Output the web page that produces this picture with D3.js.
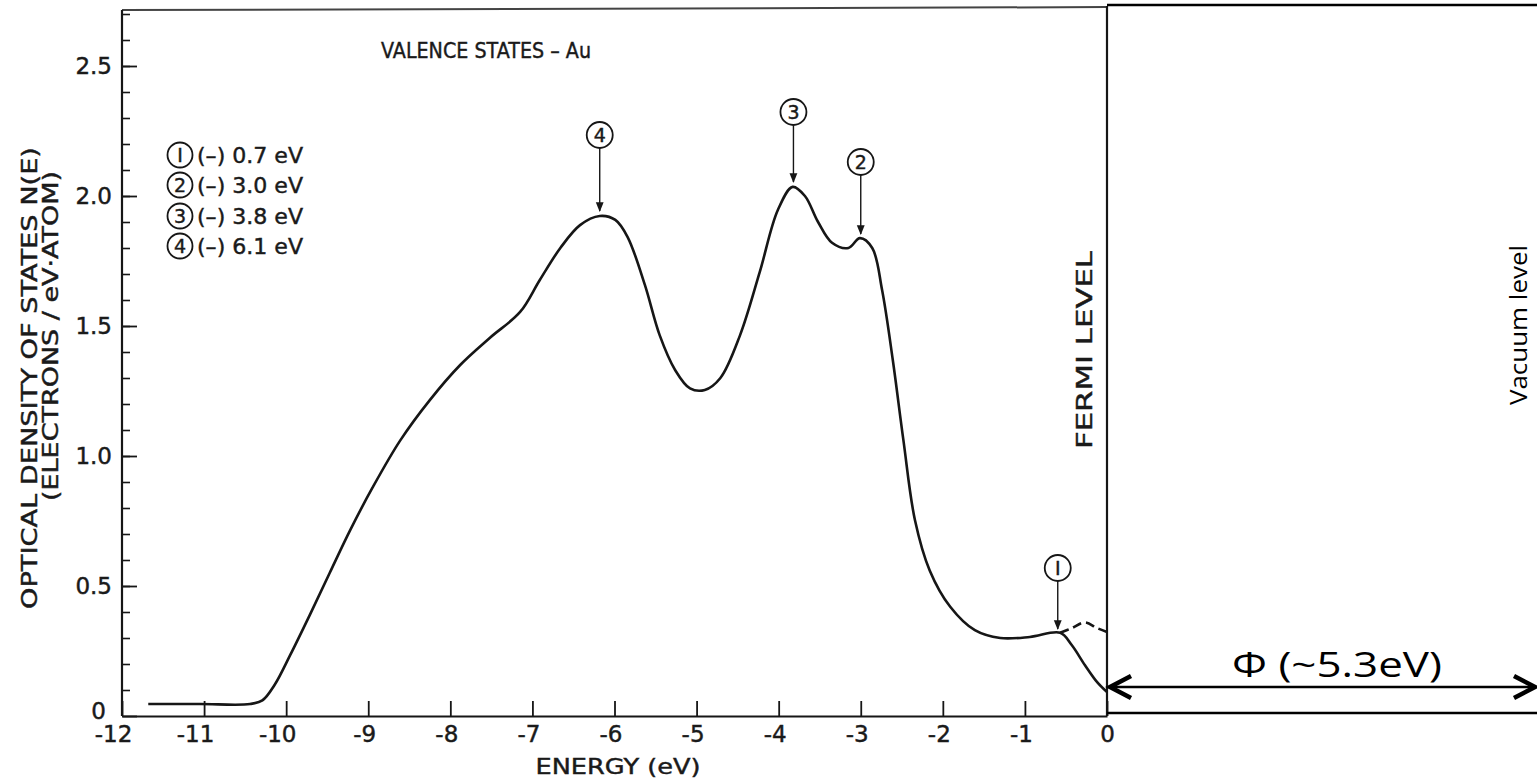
<!DOCTYPE html>
<html>
<head>
<meta charset="utf-8">
<script src="https://cdn.jsdelivr.net/npm/d3@7"></script>
<style>
  html, body { margin: 0; padding: 0; background: #fff; }
  svg { display: block; }
  .lab { font-family: "DejaVu Sans", sans-serif; fill: #1a1a1a; stroke: #1a1a1a; stroke-width: 0.45px; }
  .ppt { font-family: "Open Sans", "Liberation Sans", sans-serif; fill: #000; }
</style>
</head>
<body>
<svg id="chart" width="1537" height="781"></svg>
<script>
// Optical density of states of Au valence band, N(E) vs energy below the Fermi level.
const energy = [-11.68, -11.05, -10.44, -10.29, -10.14, -9.95, -9.71, -9.47, -9.22, -8.95,
                -8.61, -8.25, -7.88, -7.52, -7.15, -6.91, -6.66, -6.42, -6.18, -5.99,
                -5.84, -5.63, -5.45, -5.26, -5.08, -4.90, -4.71, -4.47, -4.23, -4.01,
                -3.83, -3.68, -3.52, -3.35, -3.15, -3.01, -2.86, -2.74, -2.61, -2.48,
                -2.34, -2.16, -1.91, -1.61, -1.30, -0.94, -0.57, -0.43, -0.27, -0.12, 0.0];
const density = [0.046, 0.046, 0.046, 0.060, 0.120, 0.235, 0.390, 0.550, 0.715, 0.877,
                 1.060, 1.215, 1.350, 1.454, 1.554, 1.677, 1.800, 1.888, 1.923, 1.908,
                 1.842, 1.658, 1.465, 1.330, 1.260, 1.254, 1.300, 1.465, 1.708, 1.946,
                 2.035, 2.000, 1.900, 1.820, 1.800, 1.838, 1.800, 1.638, 1.370, 1.060,
                 0.754, 0.560, 0.420, 0.330, 0.300, 0.304, 0.320, 0.273, 0.196, 0.130, 0.092];

// Dashed branch near the Fermi edge
const energyDashed = [-0.57, -0.43, -0.27, -0.12, 0.0];
const densityDashed = [0.320, 0.338, 0.360, 0.338, 0.323];

// Marked structures: number and energy (eV below E_F)
const peakIds = ["1", "2", "3", "4"];
const peakEnergy = [-0.7, -3.0, -3.8, -6.1];
const peakArrowX = [-0.6, -3.0, -3.82, -6.18];
const peakLabelText = ["(\u2013) 0.7 eV", "(\u2013) 3.0 eV", "(\u2013) 3.8 eV", "(\u2013) 6.1 eV"];

const xTicks = [-12, -11, -10, -9, -8, -7, -6, -5, -4, -3, -2, -1, 0];
const yTicks = [0, 0.5, 1.0, 1.5, 2.0, 2.5];
const yMinorTicks = d3.range(1, 28).map(i => i / 10);
const workFunction = 5.3;

const svg = d3.select("#chart");
const x = d3.scaleLinear().domain([-12, 0]).range([122, 1107]);
const y = d3.scaleLinear().domain([0, 2.5]).range([716, 66]);
const yTop = 2.715;
const ink = "#161616";

// Frame: top edge and Fermi-level edge
svg.append("line").attr("x1", x(-12)).attr("x2", x(0)).attr("y1", y(yTop)).attr("y2", y(yTop) - 3)
  .attr("stroke", "#444").attr("stroke-width", 2);
svg.append("line").attr("x1", x(0)).attr("x2", x(0)).attr("y1", y(yTop) - 4).attr("y2", y(0))
  .attr("stroke", ink).attr("stroke-width", 2.2);

// Y axis: minor + major inward ticks
const yMinor = d3.axisLeft(y).tickValues(yMinorTicks).tickSizeInner(-8).tickSizeOuter(0).tickFormat("");
const gMinor = svg.append("g").attr("transform", `translate(${x(-12)},0)`).call(yMinor);
gMinor.select(".domain").remove();
gMinor.selectAll("line").attr("stroke", ink).attr("stroke-width", 1.6);

const yAxis = d3.axisLeft(y).tickValues(yTicks).tickSizeInner(-15).tickSizeOuter(0).tickPadding(10)
  .tickFormat(d => d === 0 ? "0" : d3.format(".1f")(d));
const gy = svg.append("g").attr("transform", `translate(${x(-12)},0)`).call(yAxis);
gy.select(".domain").attr("d", `M0,${y(yTop)}V${y(0)}`).attr("stroke", ink).attr("stroke-width", 2.2);
gy.selectAll("line").attr("stroke", ink).attr("stroke-width", 1.8);
gy.selectAll("text").attr("class", "lab").attr("font-size", 23).attr("fill", ink)
  .attr("dy", d => d === 0 ? "0.1em" : "0.32em").attr("dx", d => d === 0 ? -6 : 0);

// X axis: upward ticks
const xAxis = d3.axisBottom(x).tickValues(xTicks).tickSizeInner(-15).tickSizeOuter(0).tickPadding(10)
  .tickFormat(d => d === 0 ? "0" : "-" + Math.abs(d));
const gx = svg.append("g").attr("transform", `translate(0,${y(0)})`).call(xAxis);
gx.select(".domain").attr("stroke", ink).attr("stroke-width", 2.2);
gx.selectAll("line").attr("stroke", ink).attr("stroke-width", 1.8);
gx.selectAll("text").attr("class", "lab").attr("font-size", 23).attr("fill", ink)
  .attr("dy", "0.71em").attr("dx", d => d === 0 ? 0 : (d <= -10 ? -9 : -4));

// Axis titles
svg.append("text").attr("class", "lab").attr("font-size", 22)
  .attr("transform", `translate(37,${378}) rotate(-90)`).attr("text-anchor", "middle")
  .attr("textLength", 462).attr("lengthAdjust", "spacingAndGlyphs")
  .text("OPTICAL DENSITY OF STATES N(E)");
svg.append("text").attr("class", "lab").attr("font-size", 21)
  .attr("transform", `translate(58,${336}) rotate(-90)`).attr("text-anchor", "middle")
  .attr("textLength", 330).attr("lengthAdjust", "spacingAndGlyphs")
  .text("(ELECTRONS / eV\u00B7ATOM)");
svg.append("text").attr("class", "lab").attr("font-size", 22)
  .attr("x", 618).attr("y", 774).attr("text-anchor", "middle")
  .attr("textLength", 165).attr("lengthAdjust", "spacingAndGlyphs")
  .text("ENERGY (eV)");
svg.append("text").attr("class", "lab").attr("font-size", 22)
  .attr("x", 486).attr("y", 58).attr("text-anchor", "middle")
  .attr("textLength", 210).attr("lengthAdjust", "spacingAndGlyphs")
  .text("VALENCE STATES \u2013 Au");
svg.append("text").attr("class", "lab").attr("font-size", 21)
  .attr("transform", `translate(${x(0) - 15},${350}) rotate(-90)`).attr("text-anchor", "middle")
  .attr("textLength", 198).attr("lengthAdjust", "spacingAndGlyphs")
  .text("FERMI  LEVEL");

// Curve
const pts = energy.map((e, i) => [e, density[i]]);
const dpts = energyDashed.map((e, i) => [e, densityDashed[i]]);
const line = d3.line().x(d => x(d[0])).y(d => y(d[1])).curve(d3.curveCatmullRom.alpha(0.5));
svg.append("path").attr("d", line(pts)).attr("fill", "none").attr("stroke", ink).attr("stroke-width", 2.6);
svg.append("path").attr("d", line(dpts)).attr("fill", "none").attr("stroke", ink).attr("stroke-width", 2.6)
  .attr("stroke-dasharray", "9,5");

// Peak markers: circled number with arrow to the curve
const defs = svg.append("defs");
defs.append("marker").attr("id", "tip").attr("viewBox", "0 0 10 10").attr("refX", 9).attr("refY", 5)
  .attr("markerWidth", 7).attr("markerHeight", 9).attr("orient", "auto")
  .append("path").attr("d", "M0,1 L10,5 L0,9 Z").attr("fill", ink);

const circleY = [568, 162, 112, 135];
const arrowEnd = [629, 234, 182, 211];
peakIds.forEach((id, i) => {
  const cx = x(peakArrowX[i]);
  const g = svg.append("g");
  g.append("circle").attr("cx", cx).attr("cy", circleY[i]).attr("r", 13)
    .attr("fill", "none").attr("stroke", ink).attr("stroke-width", 1.8);
  g.append("text").attr("class", "lab").attr("x", cx).attr("y", circleY[i] + 7)
    .attr("text-anchor", "middle").attr("font-size", 19).text(id === "1" ? "I" : id);
  g.append("line").attr("x1", cx).attr("x2", cx).attr("y1", circleY[i] + 13).attr("y2", arrowEnd[i])
    .attr("stroke", ink).attr("stroke-width", 1.4).attr("marker-end", "url(#tip)");
});

// Legend of marked structures
const legendY = [155, 185, 216, 246];
peakIds.forEach((id, i) => {
  const g = svg.append("g");
  g.append("circle").attr("cx", 180).attr("cy", legendY[i]).attr("r", 12.5)
    .attr("fill", "none").attr("stroke", ink).attr("stroke-width", 1.8);
  g.append("text").attr("class", "lab").attr("x", 180).attr("y", legendY[i] + 7)
    .attr("text-anchor", "middle").attr("font-size", 19).text(id === "1" ? "I" : id);
  g.append("text").attr("class", "lab").attr("x", 197).attr("y", legendY[i] + 8)
    .attr("font-size", 22).attr("textLength", 106).attr("lengthAdjust", "spacingAndGlyphs")
    .text(peakLabelText[i]);
});

// Vacuum level extension and work function
svg.append("line").attr("x1", x(0)).attr("x2", 1537).attr("y1", y(yTop) - 5).attr("y2", y(yTop) - 5)
  .attr("stroke", "#000").attr("stroke-width", 2.5);
svg.append("line").attr("x1", x(0)).attr("x2", 1537).attr("y1", y(0) - 3).attr("y2", y(0) - 3)
  .attr("stroke", "#000").attr("stroke-width", 2.5);

const ay = 687;
const xEnd = 1535;
svg.append("line").attr("x1", x(0) + 2).attr("x2", xEnd - 2).attr("y1", ay).attr("y2", ay)
  .attr("stroke", "#000").attr("stroke-width", 2.5);
svg.append("path").attr("d", `M${x(0) + 24},${ay - 11} L${x(0) + 3},${ay} L${x(0) + 24},${ay + 11}`)
  .attr("fill", "none").attr("stroke", "#000").attr("stroke-width", 4.5);
svg.append("path").attr("d", `M${xEnd - 21},${ay - 11} L${xEnd},${ay} L${xEnd - 21},${ay + 11}`)
  .attr("fill", "none").attr("stroke", "#000").attr("stroke-width", 4.5);

svg.append("text").attr("class", "ppt").attr("x", 1337).attr("y", 677).attr("text-anchor", "middle")
  .attr("font-size", 34).attr("textLength", 210).attr("lengthAdjust", "spacingAndGlyphs")
  .text("\u03A6 (~" + workFunction + "eV)");
svg.append("text").attr("class", "ppt").attr("font-size", 23)
  .attr("transform", `translate(1527,325) rotate(-90)`).attr("text-anchor", "middle")
  .attr("textLength", 160).attr("lengthAdjust", "spacingAndGlyphs")
  .text("Vacuum level");
</script>
</body>
</html>
